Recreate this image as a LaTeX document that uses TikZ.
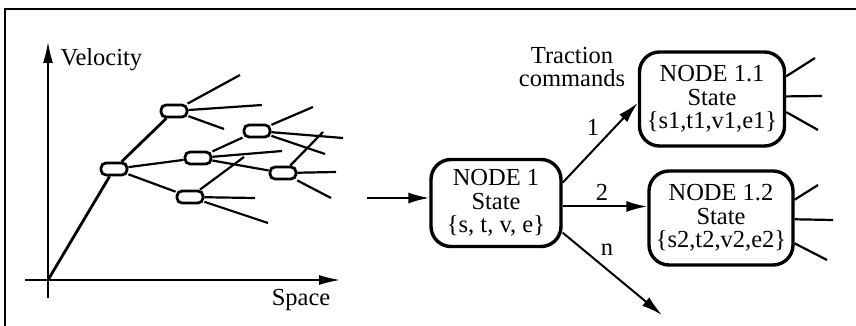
\documentclass[tikz,border=0pt]{standalone}
\usepackage{fontspec}
\setmainfont{Liberation Serif}
\usetikzlibrary{arrows.meta}

\tikzset{
  cell/.style={draw, rounded corners=5pt, line width=2.8pt, minimum width=26pt, minimum height=12pt, inner sep=0pt},
  state/.style={draw, rounded corners=20pt, line width=3.4pt, align=center, inner sep=0pt},
  branch/.style={line width=2.2pt},
  axis/.style={line width=1.5pt, -{Latex[length=21pt,width=10pt]}},
  command/.style={line width=2pt, -{Latex[length=21pt,width=11pt]}},
}

\begin{document}
\begin{tikzpicture}[x=1pt, y=-1pt, font=\fontsize{24.5}{23.5}\selectfont]
  \useasboundingbox (0,0) rectangle (856,326);
  \draw [line width=1.6pt] (5,326) -- (5,9) -- (856,9); % frame

  % velocity / space tree
  \coordinate (O) at (48,280);
  \draw [axis] (48,298) -- (48,42);
  \draw [axis] (25,280) -- (340,280);
  \node [anchor=west] (vel) at (57,60) {Velocity};
  \node (spc) at (301,300) {Space};

  \node [cell] (A) at (114,169) {};
  \node [cell] (B) at (174,111) {};
  \node [cell] (C) at (198,158) {};
  \node [cell] (D) at (190,197) {};
  \node [cell] (E) at (257,131) {};
  \node [cell] (F) at (283,173) {};

  \draw [line width=2.8pt] (O) -- (A);
  \draw [line width=2.8pt] (A) -- (B);
  \draw [branch] (A) -- (C);
  \draw [branch] (A) -- (D);
  \draw [branch] (C) -- (E);
  \draw [branch] (C) -- (F);

  \foreach \src/\x/\y [count=\i] in {B/240/75, B/262/105, B/224/129, C/282/151,
      D/244/157, D/255/198, D/268/223, E/313/107, E/343/138, E/325/154,
      F/323/132, F/336/172, F/331/198} {
    \coordinate (end\i) at (\x,\y);
    \draw [branch] (\src) -- (end\i);
  }

  % search nodes
  \node [state, minimum width=130pt, minimum height=87pt] (n1) at (496,203) {NODE 1\\State\\\{s, t, v, e\}};
  \node [state, minimum width=145pt, minimum height=94pt] (n11) at (712,99) {NODE 1.1\\State\\\{s1,t1,v1,e1\}};
  \node [state, minimum width=144pt, minimum height=94pt] (n12) at (721,218) {NODE 1.2\\State\\\{s2,t2,v2,e2\}};

  \coordinate (in) at (367,198);
  \coordinate (nend) at (662,315);
  \draw [command] (in) -- (in -| n1.west);
  \draw [command] (n1.17) -- (n11.183);
  \draw [command] (n1.-3) -- (n1.-3 -| n12.west);
  \draw [command] (n1.-24) -- (nend);

  \node [align=center] (cmd) at (572,67) {Traction\\commands};
  \node (l1) at (593,127) {1};
  \node (l2) at (602,192) {2};
  \node (ln) at (607,250) {n};

  \foreach \a/\x/\y [count=\i] in {17/815/58, 2/822/96, -10/818/130} {
    \coordinate (fa\i) at (\x,\y);
    \draw [branch] (n11.\a) -- (fa\i);
  }
  \foreach \a/\x/\y [count=\i] in {14/818/185, -1/833/220, -19/827/260} {
    \coordinate (fb\i) at (\x,\y);
    \draw [branch] (n12.\a) -- (fb\i);
  }
\end{tikzpicture}
\end{document}
